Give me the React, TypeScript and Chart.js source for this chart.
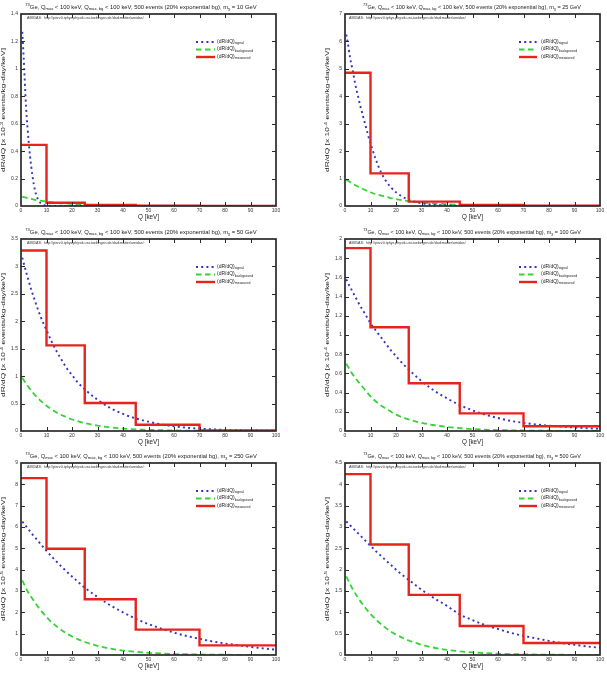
import React, { useEffect, useRef } from "react";
import { Chart, registerables } from "chart.js";
Chart.register(...registerables);

// ---------- data ----------
const Q_SIGNAL = [0.5, 1, 2, 3, 4, 5, 6, 7, 8, 9, 10, 12, 14, 16, 18, 20, 22, 25, 30, 35, 40, 45, 50, 55, 60, 65, 70, 75, 80, 85, 90, 95, 100];
const Q_BACKGROUND = [0.5, 2.5, 5, 7.5, 10, 12.5, 15, 17.5, 20, 25, 30, 35, 40, 45, 50, 60, 70, 80, 90, 100];
const BIN_EDGES = [0, 10, 25, 45, 70, 100];
const X_TICKS = [0, 10, 20, 30, 40, 50, 60, 70, 80, 90, 100];

const MASSES = [10, 25, 50, 100, 250, 500];
const Y_MAX = [1.4, 7, 3.5, 2, 9, 4.5];
const Y_STEP = [0.2, 1, 0.5, 0.2, 1, 0.5];
const Y_EXPONENT = ["-3", "-4", "-4", "-4", "-5", "-5"];

const SIGNAL_10 = [1.27, 1.1, 0.72, 0.47, 0.29, 0.16, 0.08, 0.037, 0.016, 0.007, 0.003, 0.0008, 0.0002, 0.0001, 0, 0, 0, 0, 0, 0, 0, 0, 0, 0, 0, 0, 0, 0, 0, 0, 0, 0, 0];
const SIGNAL_25 = [6.25, 6.0, 5.4, 4.95, 4.45, 4.05, 3.65, 3.3, 2.95, 2.6, 2.28, 1.72, 1.25, 0.92, 0.68, 0.5, 0.37, 0.22, 0.1, 0.045, 0.02, 0.009, 0.004, 0.002, 0.001, 0, 0, 0, 0, 0, 0, 0, 0];
const SIGNAL_50 = [3.16, 3.07, 2.9, 2.74, 2.58, 2.44, 2.3, 2.17, 2.05, 1.94, 1.84, 1.63, 1.45, 1.29, 1.14, 1.02, 0.9, 0.76, 0.57, 0.42, 0.31, 0.23, 0.17, 0.12, 0.085, 0.06, 0.042, 0.03, 0.02, 0.014, 0.01, 0.007, 0.005];
const SIGNAL_100 = [1.58, 1.55, 1.5, 1.45, 1.4, 1.35, 1.3, 1.26, 1.21, 1.17, 1.12, 1.05, 0.98, 0.91, 0.84, 0.78, 0.72, 0.64, 0.52, 0.42, 0.34, 0.27, 0.215, 0.17, 0.135, 0.105, 0.085, 0.068, 0.055, 0.045, 0.036, 0.029, 0.023];
const SIGNAL_250 = [6.25, 6.18, 6.03, 5.88, 5.73, 5.58, 5.44, 5.3, 5.16, 5.02, 4.88, 4.62, 4.37, 4.13, 3.9, 3.68, 3.47, 3.15, 2.72, 2.33, 2.0, 1.7, 1.45, 1.24, 1.05, 0.89, 0.76, 0.64, 0.54, 0.46, 0.38, 0.31, 0.25];
const SIGNAL_500 = [3.13, 3.1, 3.04, 2.98, 2.92, 2.86, 2.8, 2.74, 2.68, 2.62, 2.56, 2.44, 2.33, 2.22, 2.11, 2.0, 1.9, 1.76, 1.53, 1.33, 1.15, 0.95, 0.82, 0.7, 0.61, 0.52, 0.45, 0.39, 0.33, 0.28, 0.24, 0.2, 0.17];

const BACKGROUND_10 = [0.068, 0.058, 0.047, 0.039, 0.032, 0.026, 0.021, 0.018, 0.015, 0.01, 0.0068, 0.0046, 0.003, 0.002, 0.0014, 0.0006, 0.0003, 0.0001, 0.00005, 0.00002];
const BACKGROUND_25 = [0.96, 0.84, 0.71, 0.6, 0.5, 0.42, 0.36, 0.3, 0.25, 0.18, 0.125, 0.09, 0.063, 0.045, 0.032, 0.016, 0.008, 0.004, 0.002, 0.001];
const BACKGROUND_50 = [0.97, 0.83, 0.68, 0.56, 0.46, 0.38, 0.31, 0.26, 0.21, 0.145, 0.098, 0.066, 0.045, 0.03, 0.021, 0.0095, 0.0043, 0.002, 0.0009, 0.0004];
const BACKGROUND_100 = [0.7, 0.61, 0.52, 0.44, 0.36, 0.3, 0.25, 0.21, 0.17, 0.12, 0.085, 0.06, 0.042, 0.03, 0.02, 0.01, 0.005, 0.0025, 0.0012, 0.0006];
const BACKGROUND_250 = [3.5, 3.0, 2.55, 2.13, 1.78, 1.49, 1.25, 1.04, 0.87, 0.61, 0.43, 0.3, 0.21, 0.15, 0.1, 0.05, 0.025, 0.012, 0.006, 0.003];
const BACKGROUND_500 = [1.84, 1.6, 1.35, 1.14, 0.96, 0.81, 0.68, 0.57, 0.48, 0.34, 0.24, 0.17, 0.12, 0.087, 0.062, 0.031, 0.016, 0.008, 0.004, 0.002];

const MEASURED_10 = [0.446, 0.024, 0.008, 0.003, 0.001];
const MEASURED_25 = [4.86, 1.19, 0.16, 0.04, 0.01];
const MEASURED_50 = [3.29, 1.56, 0.51, 0.115, 0.012];
const MEASURED_100 = [1.905, 1.08, 0.497, 0.184, 0.05];
const MEASURED_250 = [8.29, 4.98, 2.61, 1.19, 0.45];
const MEASURED_500 = [4.24, 2.59, 1.41, 0.68, 0.28];

const SIGNALS = [SIGNAL_10, SIGNAL_25, SIGNAL_50, SIGNAL_100, SIGNAL_250, SIGNAL_500];
const BACKGROUNDS = [BACKGROUND_10, BACKGROUND_25, BACKGROUND_50, BACKGROUND_100, BACKGROUND_250, BACKGROUND_500];
const MEASUREDS = [MEASURED_10, MEASURED_25, MEASURED_50, MEASURED_100, MEASURED_250, MEASURED_500];

const AMIDAS_TEXT = "AMIDAS:  http://pisrv0.tphys.physik.uni-tuebingen.de/darkmatter/amidas/";
const LEGEND_SUBS = ["signal", "background", "measured"];

// ---------- styling ----------
const FONT = "'Liberation Sans', Arial, sans-serif";
const BLUE = "#3434c4";
const GREEN = "#33d433";
const RED = "#e8231e";
const FRAME = "#2a2a2a";
const SIGNAL_DASH = [2, 3.2];
const BG_DASH = [5.5, 3.5];
const CANVAS_W = 283;
const CANVAS_H = 225;
const COL_LEFT = [0, 324];
const ROW_TOP = [0, 225, 449];

type Seg = { t: string; s?: "sub" | "sup" };

function segFont(size: number, s?: string) {
  const fs = s ? size * 0.7 : size;
  return `${fs}px ${FONT}`;
}
function richWidth(ctx: CanvasRenderingContext2D, segs: Seg[], size: number) {
  let w = 0;
  for (const g of segs) {
    ctx.font = segFont(size, g.s);
    w += ctx.measureText(g.t).width;
  }
  return w;
}
function drawRich(ctx: CanvasRenderingContext2D, segs: Seg[], x: number, y: number, size: number, align: "left" | "center") {
  const w = richWidth(ctx, segs, size);
  let cx = align === "center" ? x - w / 2 : x;
  ctx.textBaseline = "middle";
  ctx.textAlign = "left";
  for (const g of segs) {
    ctx.font = segFont(size, g.s);
    const dy = g.s === "sub" ? size * 0.38 : g.s === "sup" ? -size * 0.38 : 0;
    ctx.fillText(g.t, cx, y + dy);
    cx += ctx.measureText(g.t).width;
  }
}
function fitSize(ctx: CanvasRenderingContext2D, segs: Seg[], width: number) {
  return (width / richWidth(ctx, segs, 10)) * 10;
}

function makeDecor(idx: number, col: number) {
  return {
    id: "decor" + idx,
    afterDraw(chart: any) {
      const ctx: CanvasRenderingContext2D = chart.ctx;
      const { left, right, top, bottom } = chart.chartArea;
      const xs = chart.scales.x;
      const ys = chart.scales.y;
      ctx.save();
      // inward ticks on all sides
      ctx.strokeStyle = FRAME;
      ctx.lineWidth = 1;
      ctx.beginPath();
      for (const t of xs.ticks) {
        const px = Math.round(xs.getPixelForValue(t.value)) + 0.5;
        if (px <= left + 1 || px >= right - 1) continue;
        ctx.moveTo(px, bottom);
        ctx.lineTo(px, bottom - 4);
        ctx.moveTo(px, top);
        ctx.lineTo(px, top + 4);
      }
      for (const t of ys.ticks) {
        const py = Math.round(ys.getPixelForValue(t.value)) + 0.5;
        if (py <= top + 1 || py >= bottom - 1) continue;
        ctx.moveTo(left, py);
        ctx.lineTo(left + 4, py);
        ctx.moveTo(right, py);
        ctx.lineTo(right - 4, py);
      }
      ctx.stroke();
      // frame
      ctx.lineWidth = 1.7;
      ctx.strokeRect(left, top, right - left, bottom - top);

      ctx.fillStyle = "#222";
      // main title
      const title: Seg[] = [
        { t: "73", s: "sup" },
        { t: "Ge, Q" },
        { t: "max", s: "sub" },
        { t: " < 100 keV, Q" },
        { t: "max, bg", s: "sub" },
        { t: " < 100 keV, 500 events (20% exponential bg), m" },
        { t: "\u03c7", s: "sub" },
        { t: ` = ${MASSES[idx]} GeV` },
      ];
      const tw = col === 0 ? 232 : 218;
      const tcx = col === 0 ? 141 : 148;
      drawRich(ctx, title, tcx, 7, fitSize(ctx, title, tw), "center");

      // AMIDAS line
      const am: Seg[] = [{ t: AMIDAS_TEXT }];
      ctx.fillStyle = "#333";
      drawRich(ctx, am, left + (col === 0 ? 6 : 4), 17.5, fitSize(ctx, am, 117), "left");

      // legend
      const rows = [42, 49.5, 57];
      const colors = [BLUE, GREEN, RED];
      const dashes = [SIGNAL_DASH, BG_DASH, []];
      const lx0 = col === 0 ? 196 : 195;
      const lx1 = col === 0 ? 215 : 213;
      for (let i = 0; i < 3; i++) {
        ctx.beginPath();
        ctx.strokeStyle = colors[i];
        ctx.lineWidth = i === 2 ? 2.4 : 1.8;
        ctx.setLineDash(dashes[i]);
        ctx.moveTo(lx0, rows[i]);
        ctx.lineTo(lx1, rows[i]);
        ctx.stroke();
        ctx.setLineDash([]);
        ctx.fillStyle = "#222";
        drawRich(ctx, [{ t: "(dR/dQ)" }, { t: LEGEND_SUBS[i], s: "sub" }], 217, rows[i] - 0.5, 5, "left");
      }

      // x title
      ctx.fillStyle = "#222";
      drawRich(ctx, [{ t: "Q [keV]" }], (left + right) / 2, 217, 6.3, "center");

      // y title (stretched along its length as in the reference)
      ctx.translate(3.8, (top + bottom) / 2);
      ctx.rotate(-Math.PI / 2);
      const yt: Seg[] = [{ t: "dR/dQ [x 10" }, { t: Y_EXPONENT[idx], s: "sup" }, { t: " events/kg-day/keV]" }];
      const ySize = 6;
      const stretch = 124 / richWidth(ctx, yt, ySize);
      ctx.scale(stretch, 1);
      drawRich(ctx, yt, 0, 0, ySize, "center");
      ctx.restore();
    },
  };
}

function buildConfig(idx: number, col: number): any {
  const signal = Q_SIGNAL.map((x, i) => ({ x, y: SIGNALS[idx][i] }));
  const background = Q_BACKGROUND.map((x, i) => ({ x, y: BACKGROUNDS[idx][i] }));
  const meas = MEASUREDS[idx];
  const measured = BIN_EDGES.map((x, i) => ({ x, y: meas[Math.min(i, meas.length - 1)] }));
  const tickFont = { family: FONT, size: 5 };
  return {
    type: "line",
    data: {
      datasets: [
        {
          label: "signal",
          data: signal,
          borderColor: BLUE,
          borderWidth: 1.9,
          borderDash: SIGNAL_DASH,
          pointRadius: 0,
          cubicInterpolationMode: "monotone",
          fill: false,
          order: 2,
        },
        {
          label: "background",
          data: background,
          borderColor: GREEN,
          borderWidth: 1.8,
          borderDash: BG_DASH,
          pointRadius: 0,
          cubicInterpolationMode: "monotone",
          fill: false,
          order: 3,
        },
        {
          label: "measured",
          data: measured,
          borderColor: RED,
          borderWidth: 2.4,
          stepped: "before",
          pointRadius: 0,
          fill: false,
          order: 1,
        },
      ],
    },
    options: {
      responsive: false,
      animation: false,
      devicePixelRatio: 1,
      layout: { padding: { left: 0, right: 7, top: 14, bottom: 0 } },
      plugins: { legend: { display: false }, title: { display: false }, tooltip: { enabled: false } },
      scales: {
        x: {
          type: "linear",
          min: 0,
          max: 100,
          afterBuildTicks: (s: any) => {
            s.ticks = X_TICKS.map((v) => ({ value: v }));
          },
          ticks: { font: tickFont, color: "#333", padding: 2, maxRotation: 0 },
          grid: { display: false, drawTicks: false },
          border: { display: false },
          afterFit: (s: any) => {
            s.height = 19;
          },
        },
        y: {
          type: "linear",
          min: 0,
          max: Y_MAX[idx],
          ticks: {
            stepSize: Y_STEP[idx],
            font: tickFont,
            color: "#333",
            padding: 3,
            callback: (v: number) => String(+v.toFixed(2)),
          },
          grid: { display: false, drawTicks: false },
          border: { display: false },
          afterFit: (s: any) => {
            s.width = 21;
          },
        },
      },
    },
    plugins: [makeDecor(idx, col)],
  };
}

function Panel({ idx }: { idx: number }) {
  const ref = useRef<HTMLCanvasElement>(null);
  const col = idx % 2;
  const row = Math.floor(idx / 2);
  useEffect(() => {
    const chart = new Chart(ref.current as HTMLCanvasElement, buildConfig(idx, col));
    return () => chart.destroy();
  }, [idx, col]);
  return (
    <canvas
      ref={ref}
      width={CANVAS_W}
      height={CANVAS_H}
      style={{ position: "absolute", left: COL_LEFT[col], top: ROW_TOP[row], width: CANVAS_W, height: CANVAS_H }}
    />
  );
}

export default function App() {
  return (
    <div style={{ position: "fixed", left: 0, top: 0, width: 607, height: 674, background: "#fff", overflow: "hidden" }}>
      {MASSES.map((_, i) => (
        <Panel key={i} idx={i} />
      ))}
    </div>
  );
}
